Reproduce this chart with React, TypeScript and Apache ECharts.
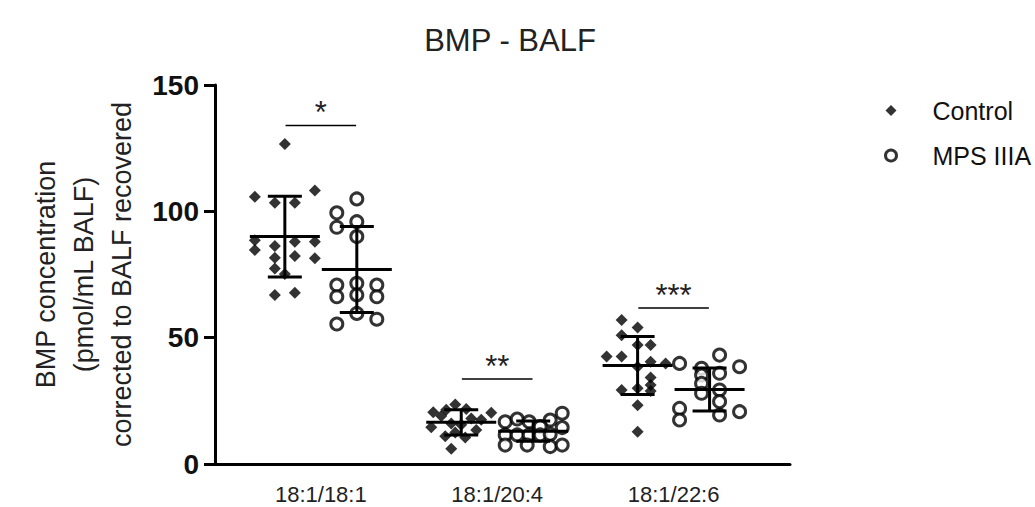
import React, { useEffect, useRef } from "react";
import * as echarts from "echarts";

// ---- data ----
const categories = ["18:1/18:1", "18:1/20:4", "18:1/22:6"];
const seriesNames = ["Control", "MPS IIIA"];

// [column (jitter slot), value]
const control_18_1_18_1 = [
  [0, 126.6], [-3, 105.8], [3, 108.2], [-1, 103.4], [1, 103.4],
  [-3, 88.6], [-3, 84.7], [-1, 86.3], [1, 88], [3, 88],
  [-1, 81.6], [1, 82.3], [3, 81.4], [-1, 77.4], [0, 75.2],
  [-1, 66.9], [1, 67.8],
];
const mps_18_1_18_1 = [
  [0, 104.9], [-2, 99.4], [-2, 93.7], [0, 95.9], [0, 90],
  [-2, 70.8], [-2, 66.2], [0, 71.5], [0, 66.9], [2, 70.8], [2, 66.2],
  [0, 59.6], [-2, 55.4], [2, 57.3],
];
const control_18_1_20_4 = [
  [-0.6, 23.5], [-1.5, 21.5], [0.5, 21.8], [-2.8, 20.5], [3, 20.3],
  [-2, 19], [1, 18], [2, 17.5], [-1, 16], [0, 15.5], [-3, 14.5],
  [1.5, 13.5], [-0.6, 12.5], [-1.6, 11], [0.4, 10.5], [-1, 6],
];
const mps_18_1_20_4 = [
  [2.9, 20.1], [-2.8, 16.7], [-1.6, 17.8], [-0.4, 16.7], [1.7, 17.4],
  [2.9, 14.4], [0.7, 14.8], [-2.8, 11.5], [-1.6, 11.5], [-0.4, 11.5],
  [0.7, 11.5], [1.7, 11.8], [-2.8, 7.5], [-0.6, 7.5], [1.7, 6.9], [2.9, 7.5],
];
const control_18_1_22_6 = [
  [-1.6, 57], [0, 54], [-1.6, 51], [0, 47.1], [1.3, 47.1],
  [-3.1, 42.5], [-1.6, 42.5], [2.8, 39.8], [1.3, 40.5], [0, 38.5],
  [1.3, 34.2], [1.3, 31.3], [-1.6, 29.3], [0, 30], [1.3, 28.9],
  [0, 23.3], [0, 12.8],
];
const mps_18_1_22_6 = [
  [-3, 39.8], [1, 43.1], [3, 38.5], [-0.8, 37.9], [-0.8, 35.2],
  [1, 35.9], [-0.8, 31.9], [-0.8, 28], [1, 29.3], [1, 24.7],
  [1, 19.4], [-3, 22], [-3, 17.4], [3, 20.7],
];

const controlGroups = [control_18_1_18_1, control_18_1_20_4, control_18_1_22_6];
const mpsGroups = [mps_18_1_18_1, mps_18_1_20_4, mps_18_1_22_6];

// mean and SD per category
const controlMean = [90, 16.5, 39];
const controlSD = [16, 5, 11.5];
const mpsMean = [77, 13, 29.5];
const mpsSD = [17, 4, 8.5];

// significance brackets
const sigHeight = [134, 33.6, 61.7];
const sigLabel = ["*", "**", "***"];

// y ticks
const yMin = 0;
const yMax = 150;
const yInterval = 50;

// category positions on the x value axis
const categoryPositions = [1, 2, 3];

// ---- layout constants ----
const sideOffset = 0.204; // category units
const colUnit = 0.0567;

export default function App() {
  const ref = useRef<HTMLDivElement>(null);

  useEffect(() => {
    if (!ref.current) return;
    const chart = echarts.init(ref.current, undefined, { renderer: "svg" });

    const toPoints = (groups: number[][][], side: number) =>
      groups.flatMap((g, gi) =>
        g.map(([c, v]) => [categoryPositions[gi] + side + c * colUnit, v])
      );

    const meanSdData = [
      ...controlMean.map((m, i) => [categoryPositions[i] - sideOffset, m, controlSD[i]]),
      ...mpsMean.map((m, i) => [categoryPositions[i] + sideOffset, m, mpsSD[i]]),
    ];
    const sigData = sigHeight.map((h, i) => [categoryPositions[i], h, i]);

    const font = "'Liberation Sans', Arial, sans-serif";

    chart.setOption({
      animation: false,
      title: {
        text: "BMP - BALF",
        left: 505,
        textAlign: "center",
        top: 20,
        textStyle: { fontFamily: font, fontSize: 31, fontWeight: "normal", color: "#222" },
      },
      legend: {
        orient: "vertical",
        left: 879,
        top: 93,
        itemGap: 20,
        itemWidth: 11,
        itemHeight: 11,
        data: [
          { name: seriesNames[0] },
          { name: seriesNames[1], itemStyle: { color: "#fff", borderColor: "#000", borderWidth: 3 } },
        ],
        textStyle: { fontFamily: font, fontSize: 25, color: "#111", padding: [0, 0, 0, 31] },
      },
      grid: { left: 215, right: 245, top: 85, bottom: 43, outerBoundsMode: "none", containLabel: false },
      xAxis: {
        type: "value",
        min: 0.4,
        max: 3.66,
        splitLine: { show: false },
        axisTick: { show: false },
        axisLine: { show: true, onZero: false, lineStyle: { color: "#000", width: 3 } },
        axisLabel: {
          customValues: categoryPositions,
          formatter: (v: number) => categories[categoryPositions.indexOf(Math.round(v))] ?? "",
          fontFamily: font,
          fontSize: 22,
          lineHeight: 24,
          color: "#222",
          margin: 18,
        },
      },
      yAxis: {
        type: "value",
        min: yMin,
        max: yMax,
        interval: yInterval,
        splitLine: { show: false },
        axisLine: { show: true, lineStyle: { color: "#000", width: 3 } },
        axisTick: { show: true, length: 11, lineStyle: { color: "#000", width: 3 } },
        axisLabel: {
          fontFamily: font,
          fontSize: 28,
          fontWeight: "bold",
          color: "#111",
          margin: 16,
        },
        name: "BMP concentration\n(pmol/mL BALF)\ncorrected to BALF recovered",
        nameLocation: "middle",
        nameGap: 74,
        nameTextStyle: { fontFamily: font, fontSize: 27, color: "#222", lineHeight: 38 },
      },
      series: [
        {
          name: seriesNames[0],
          type: "scatter",
          symbol: "diamond",
          symbolSize: 12,
          itemStyle: { color: "#000" },
          data: toPoints(controlGroups, -sideOffset),
          z: 2,
        },
        {
          name: seriesNames[1],
          type: "scatter",
          symbol: "circle",
          symbolSize: 12,
          itemStyle: { color: "#fff", borderColor: "#000", borderWidth: 3 },
          data: toPoints(mpsGroups, sideOffset),
          z: 2,
        },
        {
          type: "custom",
          z: 5,
          silent: true,
          data: meanSdData,
          renderItem: (params: any, api: any) => {
            const x = api.value(0);
            const m = api.value(1);
            const s = api.value(2);
            const pm = api.coord([x, m]);
            const pt = api.coord([x, m + s]);
            const pb = api.coord([x, m - s]);
            const st = { stroke: "#000", lineWidth: 3 };
            return {
              type: "group",
              children: [
                { type: "line", shape: { x1: pm[0] - 35, y1: pm[1], x2: pm[0] + 35, y2: pm[1] }, style: st },
                { type: "line", shape: { x1: pt[0], y1: pt[1], x2: pb[0], y2: pb[1] }, style: st },
                { type: "line", shape: { x1: pt[0] - 17, y1: pt[1], x2: pt[0] + 17, y2: pt[1] }, style: st },
                { type: "line", shape: { x1: pb[0] - 17, y1: pb[1], x2: pb[0] + 17, y2: pb[1] }, style: st },
              ],
            };
          },
        },
        {
          type: "custom",
          z: 5,
          silent: true,
          data: sigData,
          renderItem: (params: any, api: any) => {
            const x = api.value(0);
            const h = api.value(1);
            const idx = api.value(2);
            const a = api.coord([x - 0.2, h]);
            const b = api.coord([x + 0.2, h]);
            return {
              type: "group",
              children: [
                { type: "line", shape: { x1: a[0], y1: a[1], x2: b[0], y2: b[1] }, style: { stroke: "#000", lineWidth: 1.5 } },
                {
                  type: "text",
                  x: (a[0] + b[0]) / 2,
                  y: a[1] + 3,
                  style: {
                    text: sigLabel[idx],
                    fontFamily: font,
                    fontSize: 31,
                    fill: "#222",
                    align: "center",
                    verticalAlign: "bottom",
                  },
                },
              ],
            };
          },
        },
      ],
    });

    return () => chart.dispose();
  }, []);

  return (
    <div
      ref={ref}
      style={{ position: "fixed", left: 0, top: 0, width: 1035, height: 507, background: "#fff" }}
    />
  );
}
